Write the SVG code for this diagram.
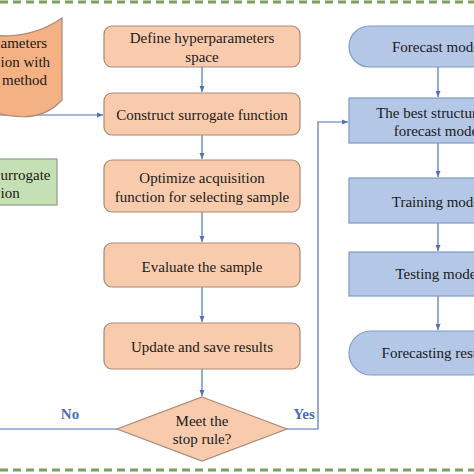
<svg xmlns="http://www.w3.org/2000/svg" width="474" height="474" viewBox="0 0 474 474">
<style>
text{font-family:"Liberation Serif","Times New Roman",serif;font-size:15px;fill:#1a1a1a;text-anchor:middle}
.o{fill:#F8CBAD;stroke:#A88A7A;stroke-width:1.2}
.ol{fill:#F4B183;stroke:#A88A7A;stroke-width:1.2}
.b{fill:#B4C7E7;stroke:#7F9AC8;stroke-width:1.2}
.g{fill:#C5E0B4;stroke:#8C9C88;stroke-width:1.2}
.c{fill:none;stroke:#4F74B5;stroke-width:1.2}
.lab{font-weight:bold;fill:#4A6FB5}
.dash{stroke:#7BA05B;stroke-width:3;stroke-dasharray:8 5}
.st{text-anchor:start}
</style>
<defs>
<marker id="ah" viewBox="0 0 6 6" refX="6" refY="3" markerWidth="6" markerHeight="6" orient="auto" markerUnits="userSpaceOnUse">
<path d="M0,0.5 L6,3 L0,5.5 Z" fill="#4F74B5"/>
</marker>
</defs>
<rect width="474" height="474" fill="#ffffff"/>
<line class="dash" x1="0" y1="2" x2="474" y2="2"/>
<line class="dash" x1="0" y1="470" x2="474" y2="470"/>

<g id="connectors">
<path class="c" d="M0,115 H103" marker-end="url(#ah)"/>
<path class="c" d="M202,67 V92" marker-end="url(#ah)"/>
<path class="c" d="M202,135 V159" marker-end="url(#ah)"/>
<path class="c" d="M202,212 V242" marker-end="url(#ah)"/>
<path class="c" d="M202,287 V322" marker-end="url(#ah)"/>
<path class="c" d="M202,369 V396" marker-end="url(#ah)"/>
<path class="c" d="M117,429 H0"/>
<path class="c" d="M287,429 H318 V122 H348" marker-end="url(#ah)"/>
<path class="c" d="M438,67 V97" marker-end="url(#ah)"/>
<path class="c" d="M438,143 V177" marker-end="url(#ah)"/>
<path class="c" d="M438,223 V251" marker-end="url(#ah)"/>
<path class="c" d="M438,296 V330" marker-end="url(#ah)"/>
</g>

<g id="hyper-method">
<path class="ol" d="M-40,22 C-10,42 30,40 62,18 L62,100 C40,124 10,120 -40,102 Z"/>
<text class="st" x="0.5" y="48">ameters</text>
<text class="st" x="0.5" y="67">ion with</text>
<text x="47" y="85" style="text-anchor:end">method</text>
</g>

<g id="surrogate">
<rect class="g" x="-40" y="159" width="97" height="46"/>
<text class="st" x="0.5" y="180">urrogate</text>
<text class="st" x="0.5" y="198">ion</text>
</g>

<g id="define">
<rect class="o" x="104" y="26" width="196" height="41" rx="8"/>
<text x="202" y="43">Define hyperparameters</text>
<text x="202" y="62">space</text>
</g>
<g id="construct">
<rect class="o" x="104" y="93" width="196" height="42" rx="8"/>
<text x="202" y="120">Construct surrogate function</text>
</g>
<g id="optimize">
<rect class="o" x="104" y="160" width="196" height="52" rx="8"/>
<text x="202" y="183">Optimize  acquisition</text>
<text x="202" y="202">function for selecting sample</text>
</g>
<g id="evaluate">
<rect class="o" x="104" y="243" width="196" height="44" rx="8"/>
<text x="202" y="272">Evaluate  the sample</text>
</g>
<g id="update">
<rect class="o" x="104" y="323" width="196" height="46" rx="8"/>
<text x="202" y="352">Update and save results</text>
</g>
<g id="stop-rule">
<polygon class="o" points="202,397 287,429 202,461 117,429"/>
<text x="202" y="426">Meet the</text>
<text x="202" y="444">stop rule?</text>
</g>
<text class="lab" x="70" y="419">No</text>
<text class="lab" x="304" y="419">Yes</text>

<g id="forecast-model">
<rect class="b" x="349" y="26" width="200" height="41" rx="20.5"/>
<text x="438" y="52">Forecast model</text>
</g>
<g id="best-structure">
<rect class="b" x="349" y="98" width="180" height="45"/>
<text x="438" y="118">The best structure of</text>
<text x="438" y="136">forecast model</text>
</g>
<g id="training">
<rect class="b" x="349" y="178" width="180" height="45"/>
<text x="438" y="207">Training model</text>
</g>
<g id="testing">
<rect class="b" x="349" y="252" width="180" height="44"/>
<text x="438" y="279">Testing model</text>
</g>
<g id="forecasting-results">
<rect class="b" x="349" y="331" width="200" height="44" rx="22"/>
<text x="438" y="358">Forecasting results</text>
</g>
</svg>
